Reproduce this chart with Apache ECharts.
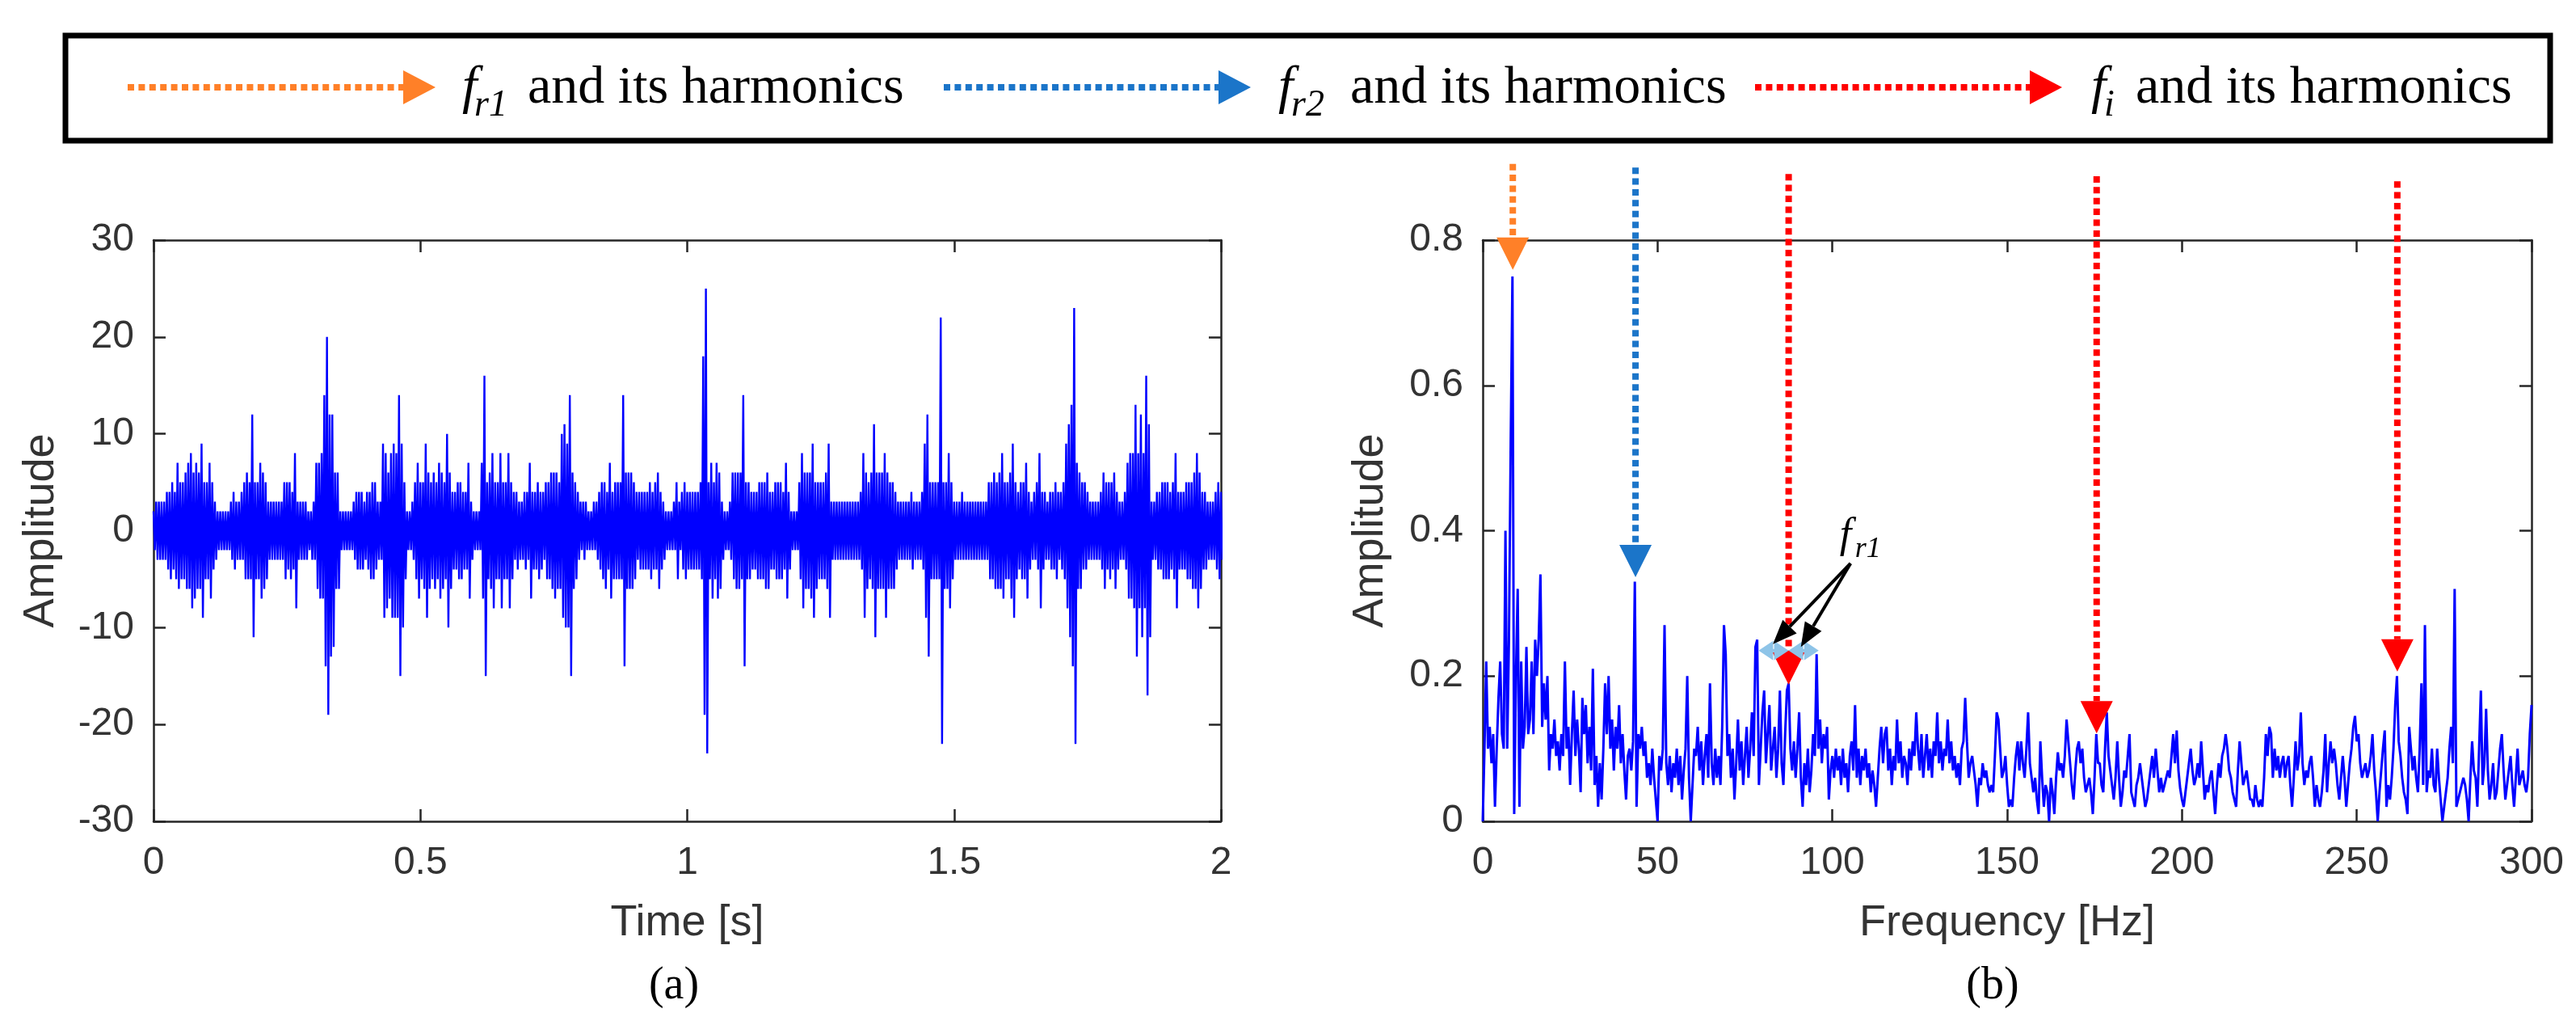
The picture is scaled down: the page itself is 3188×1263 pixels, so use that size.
<!DOCTYPE html>
<html>
<head>
<meta charset="utf-8">
<title>Vibration signal and spectrum</title>
<script src="https://cdn.jsdelivr.net/npm/echarts@6/dist/echarts.min.js"></script>
<style>
  html, body { margin: 0; padding: 0; background: #fff; }
  #chart { width: 3188px; height: 1263px; }
</style>
</head>
<body>
<div id="chart"></div>
<script>
// ---- data ----
// (a) time signal: upper / lower swing of each 5 ms slot
const TIME_STEP = 0.005;
const timeHi = [
  2,3,3,3,3,4,4,5,4,7,5,5,6,7,8,6,7,6,9,5,
  5,7,5,3,2,2,2,2,2,3,4,3,3,4,5,6,5,12,5,5,
  7,6,5,3,3,3,3,3,3,5,5,5,4,8,3,3,3,3,2,2,
  3,7,7,8,14,20,12,12,6,6,2,2,2,2,2,3,4,4,4,3,
  4,4,5,5,3,3,9,8,6,8,9,8,14,9,5,2,2,3,5,7,
  5,5,9,6,5,6,5,7,6,5,10,6,4,4,5,5,4,4,7,3,
  2,2,2,7,16,5,6,8,5,5,8,5,5,8,5,4,4,3,3,4,
  4,7,4,4,5,4,4,5,5,6,6,6,5,10,11,9,14,6,5,4,
  3,3,3,2,2,3,3,4,5,5,4,7,4,5,5,5,14,6,6,6,
  5,4,4,4,4,4,5,4,5,6,4,3,2,2,2,3,5,3,4,5,
  4,4,4,4,4,5,18,25,5,7,5,7,6,3,2,2,3,6,6,6,
  6,14,5,5,4,4,4,5,5,5,6,4,4,5,5,5,4,7,4,2,
  2,2,5,8,6,6,6,9,5,5,5,5,6,9,3,3,3,3,3,3,
  3,3,3,3,3,4,8,6,5,6,11,6,6,6,8,6,5,5,4,3,
  3,3,3,3,4,3,3,3,4,9,12,5,5,5,5,22,5,5,8,5,
  3,3,3,4,3,3,3,3,3,3,3,3,3,5,5,6,5,6,8,5,
  5,6,9,5,4,5,5,7,4,3,4,5,8,4,4,3,4,4,5,4,
  4,5,9,11,13,23,7,6,5,5,4,3,3,3,3,4,6,5,5,5,
  6,4,3,3,4,7,8,8,13,8,12,8,16,11,3,3,4,4,5,5,
  5,4,5,8,4,4,4,5,5,5,6,8,6,4,4,3,3,3,4,5,4
];
const timeLo = [
  -2,-3,-3,-3,-3,-4,-5,-4,-5,-6,-5,-5,-6,-6,-8,-7,-6,-6,-9,-5,
  -5,-7,-4,-3,-2,-2,-2,-2,-2,-3,-4,-3,-3,-3,-5,-5,-5,-11,-5,-5,
  -7,-6,-5,-3,-3,-3,-3,-3,-3,-5,-4,-5,-4,-8,-3,-3,-3,-3,-2,-3,
  -3,-6,-7,-7,-14,-19,-13,-12,-6,-6,-2,-2,-2,-2,-2,-3,-4,-4,-4,-3,
  -4,-5,-5,-4,-3,-3,-9,-8,-7,-9,-9,-9,-15,-10,-5,-2,-2,-3,-5,-7,
  -5,-6,-9,-6,-5,-6,-5,-7,-6,-5,-10,-6,-4,-4,-5,-5,-4,-4,-7,-3,
  -2,-2,-2,-7,-15,-5,-6,-8,-5,-5,-8,-5,-5,-8,-5,-3,-4,-3,-3,-4,
  -3,-7,-4,-4,-5,-4,-3,-5,-5,-6,-7,-6,-6,-9,-10,-10,-15,-6,-5,-3,
  -2,-3,-2,-2,-2,-2,-3,-4,-5,-6,-4,-7,-5,-5,-5,-5,-14,-6,-6,-6,
  -5,-3,-4,-4,-4,-4,-5,-4,-4,-6,-4,-3,-2,-2,-2,-2,-5,-2,-4,-5,
  -4,-4,-4,-4,-4,-5,-19,-23,-5,-7,-5,-7,-6,-3,-2,-2,-3,-5,-6,-6,
  -5,-14,-5,-5,-4,-4,-5,-5,-5,-6,-6,-4,-4,-5,-5,-5,-4,-7,-4,-2,
  -2,-2,-5,-8,-6,-6,-7,-9,-6,-5,-5,-5,-6,-9,-3,-3,-3,-3,-3,-3,
  -3,-3,-3,-3,-3,-4,-9,-6,-5,-6,-11,-6,-6,-6,-9,-6,-6,-6,-4,-3,
  -3,-3,-3,-3,-4,-3,-3,-3,-4,-9,-13,-5,-5,-5,-5,-22,-6,-6,-8,-5,
  -3,-3,-3,-3,-3,-3,-3,-3,-3,-3,-3,-3,-3,-5,-5,-6,-6,-6,-7,-5,
  -5,-7,-9,-5,-4,-5,-5,-7,-4,-3,-3,-4,-8,-4,-3,-3,-4,-4,-5,-3,
  -4,-5,-8,-11,-14,-22,-6,-6,-4,-4,-3,-3,-3,-3,-3,-4,-6,-4,-5,-4,
  -6,-4,-3,-3,-4,-7,-7,-8,-13,-8,-11,-8,-17,-11,-3,-3,-4,-4,-5,-5,
  -5,-4,-5,-8,-4,-4,-4,-5,-5,-6,-6,-8,-6,-4,-4,-3,-3,-3,-4,-5,-3
];

// (b) amplitude spectrum, 0.5 Hz bins from 0 to 300 Hz
const FREQ_STEP = 0.5;
const spectrum = [
  0.0,0.1,0.22,0.1,0.13,0.08,0.12,0.02,0.1,0.17,0.22,0.12,0.1,0.4,0.1,0.25,0.52,0.75,0.01,0.2,
  0.32,0.02,0.22,0.1,0.13,0.24,0.12,0.14,0.22,0.12,0.25,0.2,0.25,0.34,0.13,0.19,0.14,0.2,0.07,0.12,
  0.1,0.14,0.09,0.11,0.07,0.12,0.09,0.22,0.1,0.13,0.05,0.12,0.18,0.09,0.14,0.1,0.04,0.17,0.12,0.16,
  0.08,0.13,0.07,0.21,0.05,0.09,0.02,0.08,0.03,0.1,0.19,0.12,0.2,0.1,0.14,0.07,0.13,0.1,0.16,0.08,
  0.12,0.07,0.03,0.09,0.1,0.07,0.11,0.33,0.02,0.12,0.1,0.13,0.09,0.11,0.06,0.08,0.05,0.1,0.06,0.03,
  0.0,0.09,0.07,0.1,0.27,0.08,0.05,0.09,0.04,0.08,0.06,0.1,0.05,0.09,0.03,0.07,0.1,0.2,0.06,0.0,
  0.05,0.1,0.09,0.13,0.07,0.11,0.05,0.09,0.12,0.06,0.19,0.08,0.05,0.1,0.06,0.09,0.05,0.13,0.27,0.23,
  0.09,0.12,0.06,0.1,0.03,0.08,0.14,0.07,0.11,0.05,0.09,0.13,0.06,0.1,0.15,0.09,0.24,0.25,0.05,0.1,
  0.15,0.18,0.08,0.12,0.16,0.07,0.1,0.13,0.06,0.1,0.18,0.08,0.05,0.12,0.18,0.19,0.1,0.07,0.11,0.06,
  0.1,0.15,0.06,0.02,0.08,0.05,0.1,0.04,0.07,0.12,0.09,0.23,0.1,0.14,0.08,0.12,0.1,0.13,0.03,0.07,
  0.09,0.06,0.1,0.07,0.09,0.05,0.1,0.06,0.08,0.04,0.09,0.11,0.07,0.16,0.06,0.1,0.05,0.09,0.07,0.1,
  0.06,0.08,0.04,0.07,0.05,0.02,0.06,0.1,0.13,0.08,0.12,0.13,0.07,0.1,0.05,0.09,0.07,0.14,0.08,0.11,
  0.06,0.09,0.08,0.05,0.1,0.07,0.11,0.09,0.15,0.1,0.07,0.12,0.06,0.09,0.12,0.07,0.1,0.06,0.11,0.09,
  0.15,0.08,0.11,0.07,0.1,0.09,0.14,0.08,0.11,0.07,0.09,0.06,0.08,0.05,0.1,0.11,0.17,0.11,0.06,0.08,
  0.09,0.07,0.05,0.02,0.06,0.05,0.08,0.06,0.07,0.05,0.04,0.05,0.04,0.09,0.15,0.14,0.1,0.06,0.07,0.09,
  0.05,0.02,0.03,0.02,0.06,0.09,0.11,0.07,0.11,0.08,0.06,0.1,0.15,0.08,0.06,0.04,0.06,0.03,0.01,0.11,
  0.06,0.02,0.05,0.04,0.0,0.06,0.04,0.01,0.06,0.095,0.07,0.08,0.06,0.09,0.14,0.11,0.08,0.05,0.03,0.07,
  0.1,0.11,0.08,0.1,0.06,0.04,0.05,0.06,0.04,0.01,0.06,0.12,0.08,0.08,0.05,0.04,0.1,0.15,0.09,0.07,
  0.05,0.03,0.06,0.11,0.06,0.02,0.04,0.07,0.06,0.09,0.12,0.04,0.03,0.02,0.05,0.06,0.08,0.06,0.04,0.02,
  0.03,0.05,0.07,0.09,0.06,0.1,0.07,0.04,0.06,0.04,0.05,0.06,0.07,0.06,0.09,0.12,0.08,0.125,0.07,0.045,
  0.03,0.02,0.04,0.06,0.08,0.1,0.07,0.05,0.06,0.08,0.06,0.11,0.07,0.03,0.05,0.04,0.06,0.07,0.04,0.01,
  0.05,0.08,0.06,0.09,0.1,0.12,0.1,0.07,0.06,0.04,0.03,0.02,0.07,0.11,0.08,0.05,0.06,0.07,0.05,0.03,
  0.03,0.02,0.05,0.03,0.02,0.03,0.02,0.06,0.12,0.09,0.13,0.12,0.06,0.1,0.07,0.09,0.06,0.08,0.09,0.06,
  0.08,0.09,0.05,0.02,0.06,0.11,0.07,0.09,0.15,0.08,0.05,0.07,0.06,0.08,0.09,0.06,0.02,0.05,0.03,0.02,
  0.04,0.07,0.12,0.04,0.08,0.11,0.08,0.1,0.08,0.05,0.03,0.06,0.09,0.06,0.02,0.05,0.08,0.1,0.13,0.145,
  0.11,0.12,0.08,0.06,0.07,0.08,0.06,0.07,0.09,0.12,0.07,0.04,0.0,0.04,0.07,0.1,0.125,0.02,0.05,0.03,
  0.06,0.1,0.16,0.2,0.11,0.09,0.06,0.04,0.03,0.01,0.13,0.1,0.07,0.09,0.06,0.04,0.1,0.19,0.05,0.27,
  0.04,0.07,0.06,0.1,0.05,0.04,0.1,0.06,0.03,0.0,0.02,0.04,0.06,0.1,0.13,0.08,0.32,0.02,0.03,0.04,
  0.05,0.06,0.05,0.03,0.0,0.06,0.11,0.07,0.06,0.02,0.1,0.18,0.05,0.08,0.155,0.07,0.03,0.05,0.08,0.03,
  0.04,0.07,0.1,0.12,0.07,0.03,0.05,0.07,0.09,0.05,0.02,0.06,0.1,0.05,0.06,0.07,0.05,0.04,0.06,0.12,
  0.16
];

// harmonic markers in (b): frequency, arrow tip and arrow start amplitude, legend group
const harmonicFreqs = [8.6, 43.7, 87.5, 175.6, 261.6];
const harmonicTips = [0.759, 0.336, 0.188, 0.121, 0.206];
const harmonicTops = [0.905, 0.9, 0.891, 0.888, 0.881];
const harmonicGroup = [0, 1, 2, 2, 2];

// sidebands f_i +- f_r1 around the first f_i peak
const sidebandFreqs = [78.9, 87.5, 96.1];
const sidebandAmp = 0.235;
const noteLabelAt = [102.1, 0.373];
const noteFrom = [105.2, 0.355];
const noteTips = [[83.0, 0.244], [91.0, 0.24]];

const legendSubs = ['r1', 'r2', 'i'];
const legendTail = 'and its harmonics';

// ---- styles ----
const AXIS_COLOR = '#262626';
const LABEL_COLOR = '#333333';
const SANS = 'Liberation Sans';
const SERIF = 'Liberation Serif';
const groupColors = ['#FF8028', '#1B75C9', '#FF0000'];

let timeData = [];
timeHi.forEach((v, i) => {
  timeData.push([i * TIME_STEP, v]);
  timeData.push([(i + 0.5) * TIME_STEP, timeLo[i]]);
});
let spectrumData = spectrum.map((v, i) => [i * FREQ_STEP, v]);

function makeAxis(gridIndex, position, min, max, interval, extra) {
  let axis = {
    type: 'value',
    gridIndex: gridIndex,
    position: position,
    min: min,
    max: max,
    interval: interval,
    splitLine: { show: false },
    axisLine: { show: true, onZero: false, lineStyle: { color: AXIS_COLOR, width: 2.5 } },
    axisTick: { show: true, inside: true, length: 15, lineStyle: { color: AXIS_COLOR, width: 2.5 } },
    axisLabel: { show: false }
  };
  return Object.assign(axis, extra || {});
}

function labelStyle(margin) {
  return { show: true, margin: margin, fontSize: 48, fontFamily: SANS, color: LABEL_COLOR };
}
const nameStyle = { fontSize: 54, fontFamily: SANS, color: LABEL_COLOR };

let option = {
  animation: false,
  backgroundColor: '#ffffff',
  grid: [
    { left: 190, top: 297, width: 1321, height: 719 },
    { left: 1835, top: 297, width: 1298, height: 719 }
  ],
  xAxis: [
    makeAxis(0, 'bottom', 0, 2, 0.5, {
      axisLabel: labelStyle(28), name: 'Time [s]', nameLocation: 'middle', nameGap: 99, nameTextStyle: nameStyle
    }),
    makeAxis(1, 'bottom', 0, 300, 50, {
      axisLabel: labelStyle(28), name: 'Frequency [Hz]', nameLocation: 'middle', nameGap: 99, nameTextStyle: nameStyle
    }),
    makeAxis(0, 'top', 0, 2, 0.5),
    makeAxis(1, 'top', 0, 300, 50)
  ],
  yAxis: [
    makeAxis(0, 'left', -30, 30, 10, {
      axisLabel: labelStyle(24), name: 'Amplitude', nameLocation: 'middle', nameGap: 112, nameTextStyle: nameStyle
    }),
    makeAxis(1, 'left', 0, 0.8, 0.2, {
      axisLabel: labelStyle(24), name: 'Amplitude', nameLocation: 'middle', nameGap: 112, nameTextStyle: nameStyle
    }),
    makeAxis(0, 'right', -30, 30, 10),
    makeAxis(1, 'right', 0, 0.8, 0.2)
  ],
  series: [
    {
      type: 'line', xAxisIndex: 0, yAxisIndex: 0, data: timeData,
      showSymbol: false, lineStyle: { color: '#0000FF', width: 2.4 }, z: 2
    },
    {
      type: 'line', xAxisIndex: 1, yAxisIndex: 1, data: spectrumData,
      showSymbol: false, lineStyle: { color: '#0000FF', width: 3 }, z: 2
    }
  ]
};

let chart = echarts.init(document.getElementById('chart'), null, { renderer: 'canvas' });
chart.setOption(option);

// ---- legend box and captions (page layout) ----
let graphics = [];
graphics.push({
  type: 'rect', shape: { x: 81, y: 44, width: 3075, height: 130 },
  style: { fill: null, stroke: '#000', lineWidth: 7 }, z: 50
});

const legendArrowX = [[158, 539], [1168, 1548], [2172, 2552]];
const legendTextX = [[572, 587, 653], [1582, 1598, 1671], [2588, 2604, 2643]];
const LEGEND_Y = 108;

function dottedLine(x1, y1, x2, y2, color, z2) {
  return {
    type: 'line', shape: { x1: x1, y1: y1, x2: x2, y2: y2 },
    style: { stroke: color, lineWidth: 8, lineDash: [8, 5.4], lineCap: 'butt' }, z: 60, z2: z2 || 0
  };
}
function triangle(points, color, z2) {
  return { type: 'polygon', shape: { points: points }, style: { fill: color }, z: 60, z2: z2 || 0 };
}
function italicText(text, x, y, size, align) {
  return {
    type: 'text', z: 60,
    style: {
      text: text, x: x, y: y, fill: '#000', fontSize: size, fontFamily: SERIF, fontStyle: 'italic',
      align: align || 'left', verticalAlign: 'middle'
    }
  };
}

legendSubs.forEach((sub, k) => {
  let [x1, tip] = legendArrowX[k];
  let color = groupColors[k];
  graphics.push(dottedLine(x1, LEGEND_Y, tip - 40, LEGEND_Y, color));
  graphics.push(triangle([[tip - 40, LEGEND_Y - 21], [tip, LEGEND_Y], [tip - 40, LEGEND_Y + 21]], color));
  let [fx, sx, tx] = legendTextX[k];
  graphics.push(italicText('f', fx, 110, 66));
  graphics.push(italicText(sub, sx, 131, 46));
  graphics.push({
    type: 'text', z: 60,
    style: { text: legendTail, x: tx, y: 110, fill: '#000', fontSize: 66, fontFamily: SERIF, verticalAlign: 'middle' }
  });
});

graphics.push({
  type: 'text', z: 60,
  style: { text: '(a)', x: 834, y: 1220, fill: '#000', fontSize: 56, fontFamily: SERIF, align: 'center', verticalAlign: 'middle' }
});
graphics.push({
  type: 'text', z: 60,
  style: { text: '(b)', x: 2466, y: 1220, fill: '#000', fontSize: 56, fontFamily: SERIF, align: 'center', verticalAlign: 'middle' }
});

// ---- harmonic arrows in (b), placed through the spectrum's axes ----
function toPx(f, v) {
  return chart.convertToPixel({ seriesIndex: 1 }, [f, v]);
}
function headPoints(tip, from, len, half) {
  let dx = tip[0] - from[0], dy = tip[1] - from[1];
  let d = Math.hypot(dx, dy);
  let ux = dx / d, uy = dy / d;
  let bx = tip[0] - ux * len, by = tip[1] - uy * len;
  return [tip, [bx - uy * half, by + ux * half], [bx + uy * half, by - ux * half]];
}

harmonicFreqs.forEach((f, k) => {
  let color = groupColors[harmonicGroup[k]];
  let top = toPx(f, harmonicTops[k]);
  let tip = toPx(f, harmonicTips[k]);
  graphics.push(dottedLine(tip[0], top[1], tip[0], tip[1] - 40, color, 1));
  graphics.push(triangle([[tip[0] - 20, tip[1] - 40], [tip[0] + 20, tip[1] - 40], [tip[0], tip[1]]], color, 2));
});

// light blue double arrows between f_i and its f_r1 sidebands
for (let k = 0; k < sidebandFreqs.length - 1; k++) {
  let a = toPx(sidebandFreqs[k], sidebandAmp);
  let b = toPx(sidebandFreqs[k + 1], sidebandAmp);
  graphics.push({
    type: 'line', shape: { x1: a[0] + 14, y1: a[1], x2: b[0] - 14, y2: b[1] },
    style: { stroke: '#8EC4E8', lineWidth: 4 }, z: 60, z2: 3
  });
  graphics.push(triangle(headPoints(a, b, 18, 12), '#8EC4E8', 3));
  graphics.push(triangle(headPoints(b, a, 18, 12), '#8EC4E8', 3));
}

// black pointers from the f_r1 note
let from = toPx(noteFrom[0], noteFrom[1]);
noteTips.forEach(t => {
  let tip = toPx(t[0], t[1]);
  let pts = headPoints(tip, from, 30, 12);
  let base = [(pts[1][0] + pts[2][0]) / 2, (pts[1][1] + pts[2][1]) / 2];
  graphics.push({
    type: 'line', shape: { x1: from[0], y1: from[1], x2: base[0], y2: base[1] },
    style: { stroke: '#000', lineWidth: 4 }, z: 60, z2: 4
  });
  graphics.push(triangle(pts, '#000', 4));
});
let lab = toPx(noteLabelAt[0], noteLabelAt[1]);
graphics.push(italicText('f', lab[0], lab[1] - 17, 52));
graphics.push(italicText('r1', lab[0] + 19, lab[1] - 1, 36));

chart.setOption({ graphic: graphics });
</script>
</body>
</html>
